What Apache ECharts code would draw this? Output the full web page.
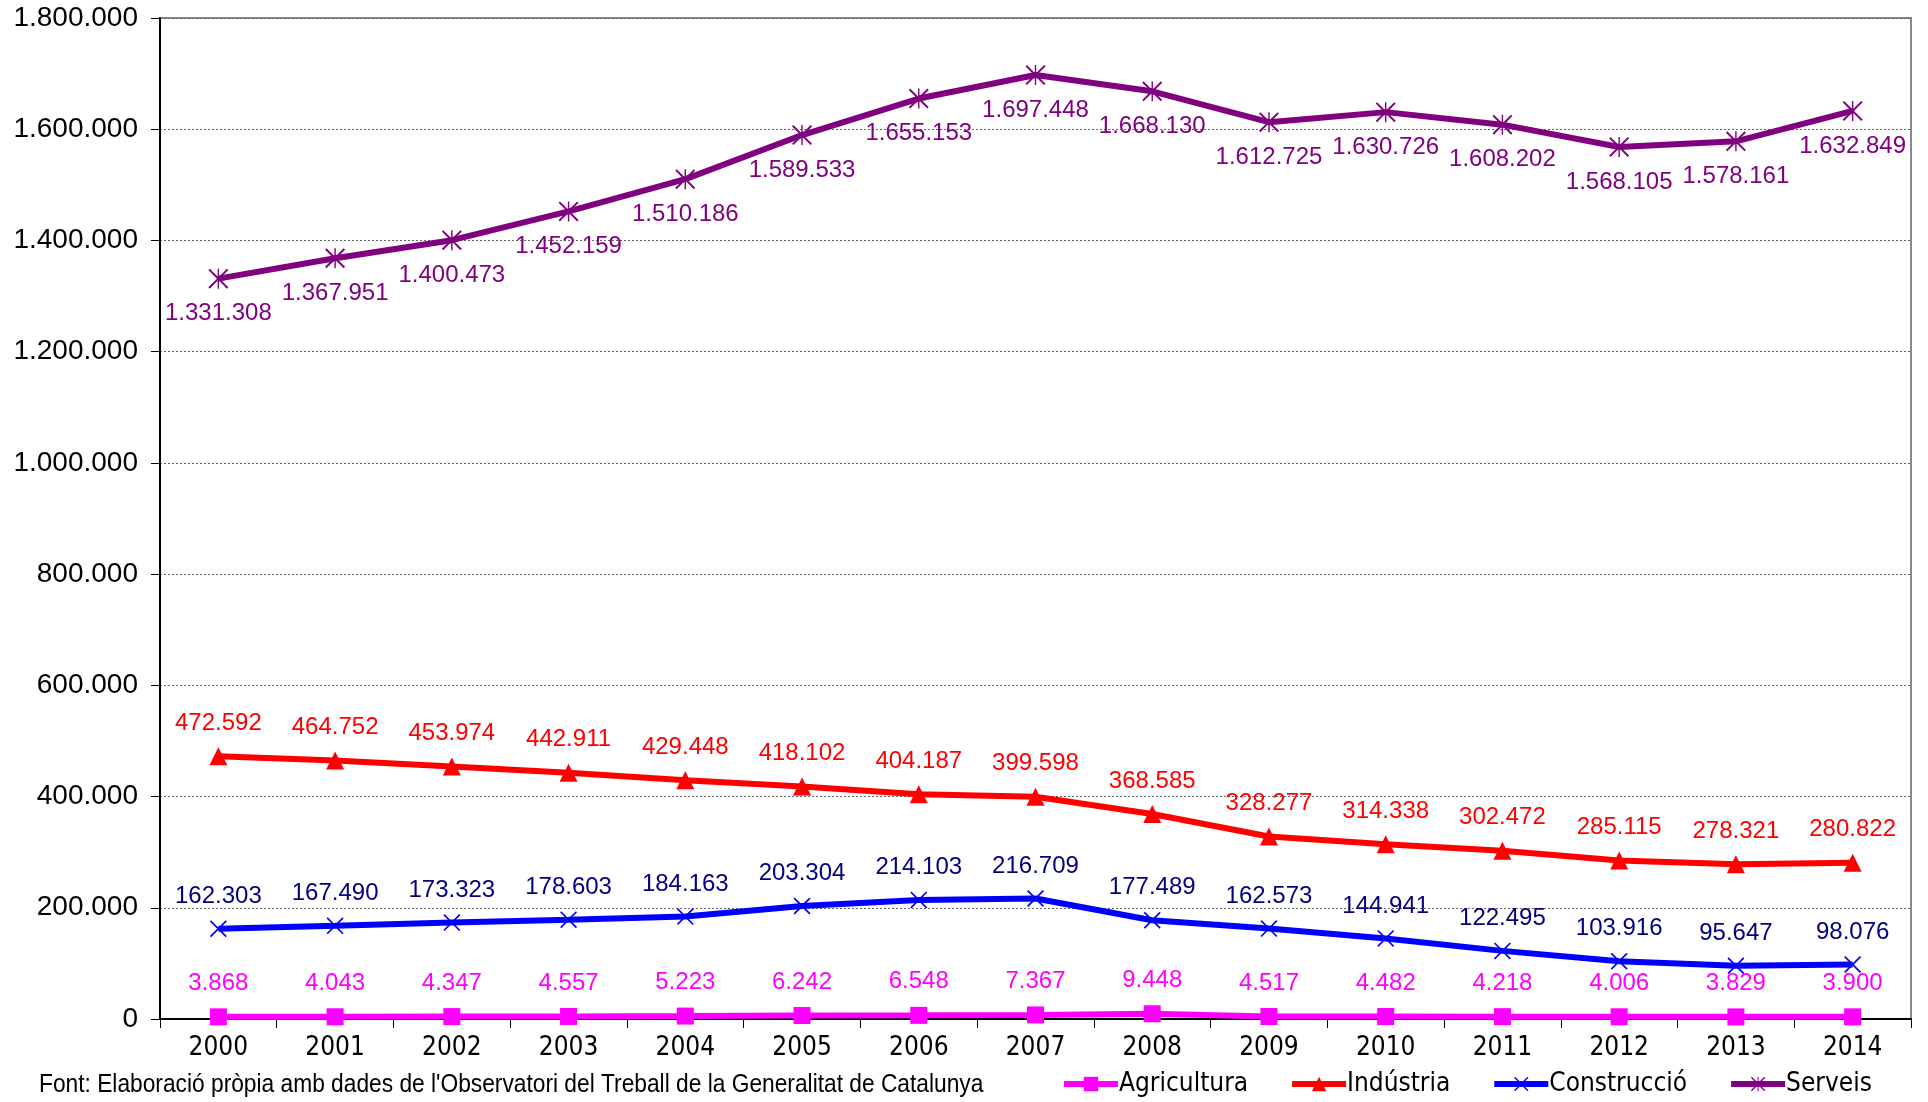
<!DOCTYPE html>
<html>
<head>
<meta charset="utf-8">
<script src="https://cdn.jsdelivr.net/npm/echarts@6/dist/echarts.min.js"></script>
<style>
  html, body { margin: 0; padding: 0; background: #fff; }
  #chart { width: 1928px; height: 1102px; }
</style>
</head>
<body>
<div id="chart"></div>
<script>
var years = ['2000', '2001', '2002', '2003', '2004', '2005', '2006', '2007', '2008', '2009', '2010', '2011', '2012', '2013', '2014'];
var agricultura = [3868, 4043, 4347, 4557, 5223, 6242, 6548, 7367, 9448, 4517, 4482, 4218, 4006, 3829, 3900];
var industria = [472592, 464752, 453974, 442911, 429448, 418102, 404187, 399598, 368585, 328277, 314338, 302472, 285115, 278321, 280822];
var construccio = [162303, 167490, 173323, 178603, 184163, 203304, 214103, 216709, 177489, 162573, 144941, 122495, 103916, 95647, 98076];
var serveis = [1331308, 1367951, 1400473, 1452159, 1510186, 1589533, 1655153, 1697448, 1668130, 1612725, 1630726, 1608202, 1568105, 1578161, 1632849];
var sourceText = "Font: Elaboració pròpia amb dades de l'Observatori del Treball de la Generalitat de Catalunya";

// format 1234567 -> 1.234.567
function fmt(v) {
  return String(v).replace(/\B(?=(\d{3})+(?!\d))/g, '.');
}

var xMark = 'path://M0,1.4 L1.4,0 L10,8.6 L18.6,0 L20,1.4 L11.4,10 L20,18.6 L18.6,20 L10,11.4 L1.4,20 L0,18.6 L8.6,10 Z';
var starMark = 'path://M0,1.4 L1.4,0 L10,8.6 L18.6,0 L20,1.4 L11.4,10 L20,18.6 L18.6,20 L10,11.4 L1.4,20 L0,18.6 L8.6,10 Z M9.3,0 L10.7,0 L10.7,20 L9.3,20 Z';

var labelFont = 'Liberation Sans, Arial, sans-serif';
var narrowFont = 'DejaVu Sans Condensed, Liberation Sans Narrow, Arial Narrow, sans-serif';

function makeSeries(name, data, color, labelColor, symbol, size, pos, dist) {
  return {
    name: name,
    type: 'line',
    data: data,
    symbol: symbol,
    symbolSize: size,
    showAllSymbol: true,
    lineStyle: { color: color, width: 6 },
    itemStyle: { color: color },
    label: {
      show: true,
      position: pos,
      distance: dist,
      color: labelColor,
      fontSize: 24,
      fontFamily: labelFont,
      formatter: function (p) { return fmt(p.value); }
    },
    emphasis: { disabled: true },
    animation: false
  };
}

var chart = echarts.init(document.getElementById('chart'));
chart.setOption({
  animation: false,
  grid: {
    left: 160, right: 17, top: 18, bottom: 83,
    show: true, borderColor: '#888', borderWidth: 2, backgroundColor: '#fff'
  },
  legend: {
    left: 1056, bottom: 0,
    itemWidth: 54, itemHeight: 18, itemGap: 41,
    lineStyle: { width: 6 },
    textStyle: { fontSize: 26, fontFamily: narrowFont, color: '#000', padding: [0, 0, 0, -4] },
    data: ['Agricultura', 'Indústria', 'Construcció', 'Serveis']
  },
  graphic: [{
    type: 'text', left: 39, top: 1073,
    scaleX: 0.91,
    style: { text: sourceText, fontSize: 25, fontFamily: labelFont, fill: '#000' }
  }],
  xAxis: {
    type: 'category',
    data: years,
    boundaryGap: true,
    axisLine: { lineStyle: { color: '#000', width: 2 } },
    axisTick: { show: true, length: 9, lineStyle: { color: '#000' } },
    axisLabel: { fontSize: 26, fontFamily: narrowFont, color: '#000', margin: 16 },
    splitLine: { show: false }
  },
  yAxis: {
    type: 'value',
    min: 0, max: 1800000, interval: 200000,
    axisLine: { show: true, lineStyle: { color: '#000', width: 2 } },
    axisTick: { show: true, length: 9, lineStyle: { color: '#000' } },
    axisLabel: { fontSize: 28, fontFamily: labelFont, color: '#000', margin: 22, formatter: fmt },
    splitLine: { show: true, lineStyle: { color: '#666', width: 1, type: [2, 2] } }
  },
  series: [
    makeSeries('Agricultura', agricultura, '#FF00FF', '#FF00FF', 'rect', 17, 'top', 13),
    makeSeries('Indústria', industria, '#FF0000', '#FF0000', 'triangle', 18, 'top', 12),
    makeSeries('Construcció', construccio, '#0000FF', '#000080', xMark, 17, 'top', 12),
    makeSeries('Serveis', serveis, '#800080', '#800080', starMark, 20, 'bottom', 13)
  ]
});
</script>
</body>
</html>
